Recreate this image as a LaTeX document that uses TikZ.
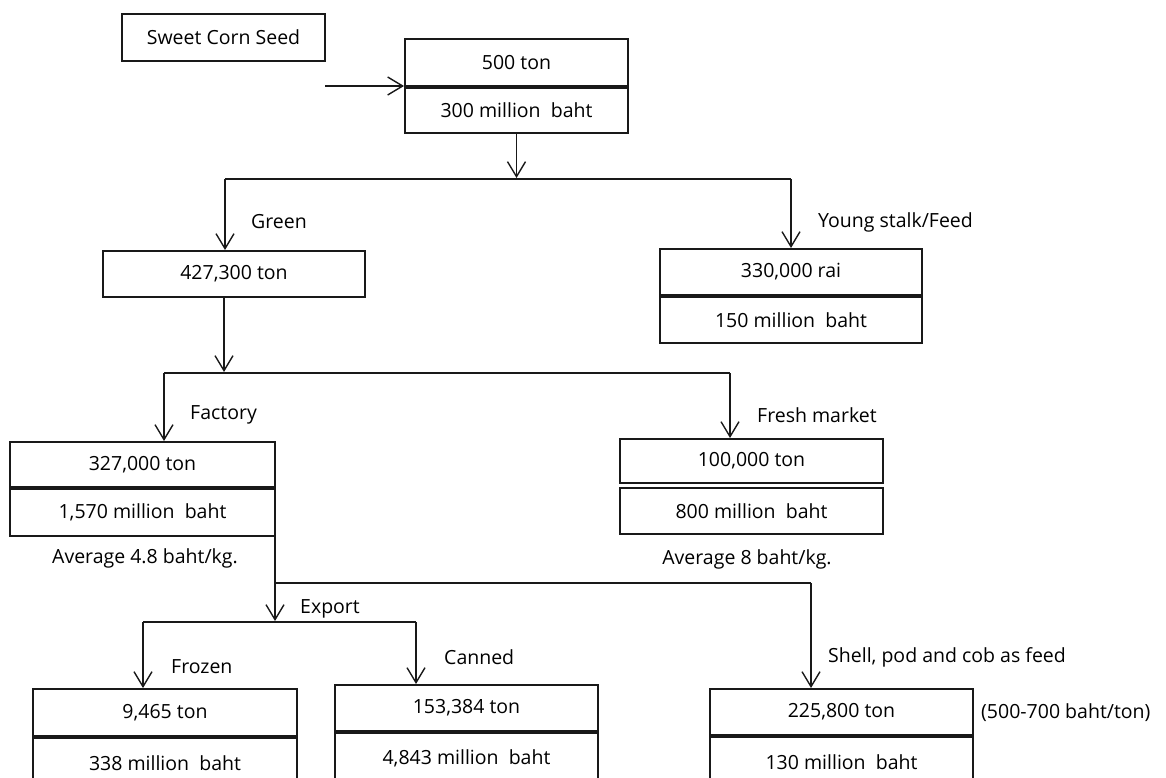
\documentclass[tikz,border=0pt]{standalone}
\usepackage{fontspec}
\setmainfont{Open Sans}
\usetikzlibrary{arrows.meta}
\newcommand\mybox[6]{\node[box,minimum width=#4pt,minimum height=#5pt] (#1) at (#2,#3) {#6};}
\begin{document}
\begin{tikzpicture}[x=1pt,y=-1pt,
  txt/.style={font=\fontsize{19.5}{23}\selectfont},
  box/.style={draw=black!90, line width=1.5pt, anchor=north west, inner sep=0pt, outer sep=0pt, txt},
  ln/.style={draw=black!90, line width=1.4pt},
  arr/.style={ln, shorten >=1pt, -{Straight Barb[length=15pt,width=18pt,line width=1.4pt]}},
  lbl/.style={anchor=west, inner sep=0pt, txt}]
\useasboundingbox[fill=white] (0,0) rectangle (1166,778);
% boxes
\mybox{scs}{122}{14}{203}{47}{Sweet Corn Seed}
\mybox{a1}{405}{39}{223}{47}{500 ton}
\mybox{a2}{405}{88}{223}{45}{300 million~~baht}
\mybox{b}{103}{251}{262}{46}{427,300 ton}
\mybox{c1}{660}{249}{262}{46}{330,000 rai}
\mybox{c2}{660}{297}{262}{46}{150 million~~baht}
\mybox{d1}{10}{442}{265}{45}{327,000 ton}
\mybox{d2}{10}{489}{265}{47}{1,570 million~~baht}
\mybox{e1}{620}{439}{263}{44}{100,000 ton}
\mybox{e2}{620}{488}{263}{46}{800 million~~baht}
\mybox{f1}{33}{689}{264}{47}{9,465 ton}
\mybox{f2}{33}{738}{264}{50}{338 million~~baht}
\mybox{g1}{335}{685}{263}{46}{153,384 ton}
\mybox{g2}{335}{733}{263}{50}{4,843 million~~baht}
\mybox{h1}{710}{689}{263}{46}{225,800 ton}
\mybox{h2}{710}{737}{263}{50}{130 million~~baht}
% labels
\node[lbl] (lgreen) at (251,222) {Green};
\node[lbl] (lyoung) at (818,222) {Young stalk/Feed};
\node[lbl] (lfact) at (190,415) {Factory};
\node[lbl] (lfresh) at (757,415) {Fresh market};
\node[txt,inner sep=0pt] (avgd) at (145,558) {Average 4.8 baht/kg.};
\node[txt,inner sep=0pt] (avge) at (747,559) {Average 8 baht/kg.};
\node[lbl] (lexp) at (300,609) {Export};
\node[lbl] (lfroz) at (171,667) {Frozen};
\node[lbl] (lcan) at (444,657) {Canned};
\node[lbl] (lshell) at (828,657) {Shell, pod and cob as feed};
\node[lbl] (lprice) at (981,713) {(500-700 baht/ton)};
% junction coordinates
\coordinate (s0) at (325,86);
\coordinate (jL) at (225,179);
\coordinate (jR) at (791,179);
\coordinate (kA) at (224,373);
\coordinate (kL) at (164,373);
\coordinate (kR) at (730,373);
\coordinate (m1) at (275,583);
\coordinate (m2) at (811,583);
\coordinate (n0) at (275,622);
\coordinate (nL) at (143,622);
\coordinate (nR) at (416,622);
% connectors
\draw[arr] (a1.south west -| s0) -- (a1.south west);
\draw[arr] (a2.south) -- (a2.south |- jL);
\draw[ln] (jL) -- (jR);
\draw[arr] (jL) -- (jL |- b.north);
\draw[arr] (jR) -- (jR |- c1.north);
\draw[arr] (b.south -| kA) -- (kA);
\draw[ln] (kL) -- (kR);
\draw[arr] (kL) -- (kL |- d1.north);
\draw[arr] (kR) -- (kR |- e1.north);
\draw[ln] (d2.south east) -- (m1) -- (m2);
\draw[arr] (m1) -- (n0);
\draw[arr] (m2) -- (m2 |- h1.north);
\draw[ln] (nL) -- (nR);
\draw[arr] (nL) -- (nL |- f1.north);
\draw[arr] (nR) -- (nR |- g1.north);
\end{tikzpicture}
\end{document}
